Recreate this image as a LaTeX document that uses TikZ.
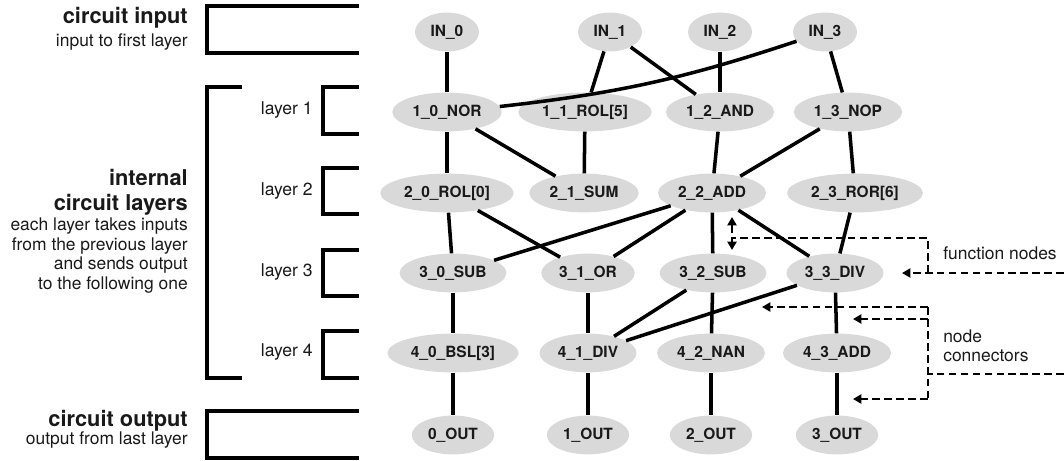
\documentclass[tikz,border=0pt]{standalone}
\usepackage{fontspec}
\setmainfont{TeX Gyre Heros}
\usetikzlibrary{shapes.geometric, arrows.meta}

\tikzset{
	fnode/.style = {ellipse, fill=black!15, text=black!90, inner xsep=3pt, inner ysep=4.5pt, minimum width=1.6cm, minimum height=0.97cm, font=\fontsize{11}{12}\selectfont\bfseries},
	wire/.style = {line width=2.5pt},
	bracketline/.style = {line width=2.8pt},
	dashline/.style = {line width=2pt, dash pattern=on 5.5pt off 3pt},
	pointer/.style = {dashline, -{Triangle[length=6pt, width=6.5pt]}},
	heading/.style = {anchor=east, align=right, inner sep=0pt, text=black!90, font=\fontsize{15.5}{17.7}\selectfont\bfseries},
	note/.style = {anchor=east, align=right, inner sep=0pt, text=black!90, font=\fontsize{12.4}{14}\selectfont},
	layerlabel/.style = {anchor=east, inner sep=0pt, text=black!90, font=\fontsize{12.5}{14}\selectfont}
}

\begin{document}
\begin{tikzpicture} [x = 0.025cm, y = -0.025cm]

	\useasboundingbox (0, 0) rectangle (1064, 460);

		% Define nodes.

	%inputs
	\node [fnode] (in0) at (447, 32) {IN\_0};
	\node [fnode] (in1) at (610, 32) {IN\_1};
	\node [fnode] (in2) at (720, 32) {IN\_2};
	\node [fnode] (in3) at (825, 32) {IN\_3};

	%layer 1
	\node [fnode] (l10) at (447, 112) {1\_0\_NOR};
	\node [fnode] (l11) at (585, 112) {1\_1\_ROL[5]};
	\node [fnode] (l12) at (720, 112) {1\_2\_AND};
	\node [fnode] (l13) at (848, 112) {1\_3\_NOP};

	%layer 2
	\node [fnode] (l20) at (447, 193) {2\_0\_ROL[0]};
	\node [fnode] (l21) at (584, 193) {2\_1\_SUM};
	\node [fnode] (l22) at (712, 193) {2\_2\_ADD};
	\node [fnode] (l23) at (855, 193) {2\_3\_ROR[6]};

	%layer 3
	\node [fnode] (l30) at (453, 273) {3\_0\_SUB};
	\node [fnode] (l31) at (588, 273) {3\_1\_OR};
	\node [fnode] (l32) at (713, 273) {3\_2\_SUB};
	\node [fnode] (l33) at (835, 273) {3\_3\_DIV};

	%layer 4
	\node [fnode] (l40) at (453, 353) {4\_0\_BSL[3]};
	\node [fnode] (l41) at (588, 353) {4\_1\_DIV};
	\node [fnode] (l42) at (711, 353) {4\_2\_NAN};
	\node [fnode] (l43) at (837, 353) {4\_3\_ADD};

	%outputs
	\node [fnode] (out0) at (453, 435) {0\_OUT};
	\node [fnode] (out1) at (588, 435) {1\_OUT};
	\node [fnode] (out2) at (711, 435) {2\_OUT};
	\node [fnode] (out3) at (837, 435) {3\_OUT};

% Draw connectors.

	\draw [wire] (in0) -- (l10);
	\draw [wire] (in1) -- (l11);
	\draw [wire] (in1) -- (l12);
	\draw [wire] (in2) -- (l12);
	\draw [wire] (in3) to [bend left = 6] (l10);
	\draw [wire] (in3) -- (l13);

	\draw [wire] (l10) -- (l20);
	\draw [wire] (l10) -- (l21);
	\draw [wire] (l11) -- (l21);
	\draw [wire] (l12) -- (l22);
	\draw [wire] (l13) -- (l22);
	\draw [wire] (l13) -- (l23);

	\draw [wire] (l20) -- (l30);
	\draw [wire] (l20) -- (l31);
	\draw [wire] (l22) -- (l30);
	\draw [wire] (l22) -- (l31);
	\draw [wire] (l22) -- (l32);
	\draw [wire] (l22) -- (l33);
	\draw [wire] (l23) -- (l33);

	\draw [wire] (l30) -- (l40);
	\draw [wire] (l31) -- (l41);
	\draw [wire] (l32) -- (l41);
	\draw [wire] (l33) -- (l41);
	\draw [wire] (l32) -- (l42);
	\draw [wire] (l33) -- (l43);

	\draw [wire] (l40) -- (out0);
	\draw [wire] (l41) -- (out1);
	\draw [wire] (l42) -- (out2);
	\draw [wire] (l43) -- (out3);

% Draw brackets.

	\draw [bracketline] (359, 6) -- (207, 6) -- (207, 53) -- (359, 53);
	\draw [bracketline] (242, 87) -- (207, 87) -- (207, 378) -- (242, 378);
	\draw [bracketline] (359, 87) -- (323, 87) -- (323, 134) -- (359, 134);
	\draw [bracketline] (359, 168) -- (323, 168) -- (323, 214) -- (359, 214);
	\draw [bracketline] (359, 250) -- (323, 250) -- (323, 296) -- (359, 296);
	\draw [bracketline] (359, 331) -- (323, 331) -- (323, 378) -- (359, 378);
	\draw [bracketline] (359, 411) -- (207, 411) -- (207, 458) -- (359, 458);

% Left labels.

	\node [heading] (inTitle) at (188, 18) {circuit input};
	\node [note] (inNote) at (188, 42) {input to first layer};

	\node [heading] (midTitle) at (188, 192.5) {internal\\circuit layers};
	\node [note] (midNote) at (188, 255.5) {each layer takes inputs\\from the previous layer\\and sends output\\to the following one};

	\node [heading] (outTitle) at (188, 421) {circuit output};
	\node [note] (outNote) at (188, 440) {output from last layer};

	\node [layerlabel] (lay1) at (313, 110) {layer 1};
	\node [layerlabel] (lay2) at (313, 191) {layer 2};
	\node [layerlabel] (lay3) at (313, 272) {layer 3};
	\node [layerlabel] (lay4) at (313, 352) {layer 4};

% Draw label arrows.

	\coordinate (fnEdge) at (1064, 273);
	\coordinate (fnTip) at (902, 273);
	\coordinate (fnJoin) at (928, 273);
	\coordinate (fnTurn) at (928, 238);
	\coordinate (fnTop) at (732, 217);
	\coordinate (fnMid) at (732, 238);
	\coordinate (fnBot) at (732, 250);

	\draw [pointer] (fnEdge) -- (fnTip);
	\draw [dashline] (fnJoin) -- (fnTurn) -- (fnMid);
	\draw [dashline, {Triangle[length=6pt, width=6.5pt]}-{Triangle[length=6pt, width=6.5pt]}] (fnTop) -- (fnBot);

	\coordinate (ncEdge) at (1064, 374);
	\coordinate (ncJoin) at (928, 374);
	\coordinate (ncTop) at (928, 307);
	\coordinate (ncUpper) at (928, 319);
	\coordinate (ncBot) at (928, 399);

	\draw [dashline] (ncEdge) -- (ncJoin);
	\draw [dashline] (ncTop) -- (ncBot);
	\draw [pointer] (ncTop) -- (762, 307);
	\draw [pointer] (ncUpper) -- (853, 319);
	\draw [pointer] (ncBot) -- (853, 399);

	\node [anchor = west, inner sep = 0pt, text = black!90, font = \fontsize{12.4}{14}\selectfont] (fnText) at (943, 253) {function nodes};
	\node [anchor = west, align = left, inner sep = 0pt, text = black!90, font = \fontsize{12.4}{13.5}\selectfont] (ncText) at (943, 345.5) {node\\connectors};

\end{tikzpicture}
\end{document}
